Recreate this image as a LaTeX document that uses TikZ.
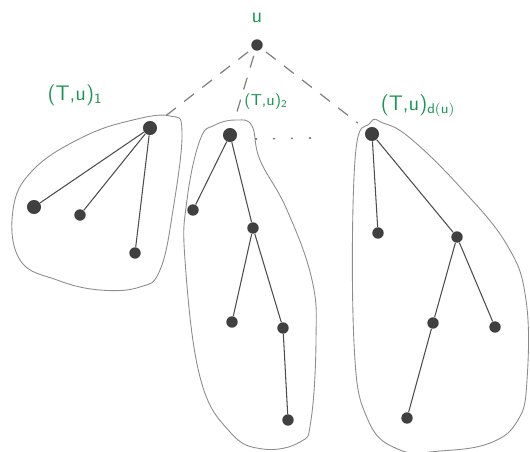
\documentclass[tikz,border=0pt]{standalone}
\definecolor{pen}{RGB}{25,150,85}
\begin{document}
\begin{tikzpicture}[x=0.02cm,y=-0.02cm,
  vtx/.style={circle,fill=black!75,inner sep=0pt,minimum size=8pt},
  svtx/.style={circle,fill=black!75,inner sep=0pt,minimum size=6.5pt},
  edge/.style={draw=black!70,line width=0.6pt},
  blob/.style={draw=black!45,line width=0.5pt},
  dashlink/.style={draw=black!50,dash pattern=on 7pt off 6pt,line width=0.7pt},
  lbl/.style={text=pen,font=\sffamily\large}]
\useasboundingbox (0,0) rectangle (530,452);
% root
\node[svtx] (u) at (257,45) {};
\node[lbl] (ul) at (257,18) {u};
% left tree
\node[vtx] (a0) at (150,128) {};
\node[vtx] (a1) at (34,207) {};
\node[svtx] (a2) at (80,215) {};
\node[svtx] (a3) at (135,253) {};
\draw[edge] (a0) -- (a1) (a0) -- (a2) (a0) -- (a3);
\draw[blob] plot[smooth cycle,tension=0.7] coordinates {(170,116) (182,132) (173,210) (160,270) (140,287) (100,290) (57,280) (20,260) (13,210) (33,170) (83,137) (133,120)};
% middle tree
\node[vtx] (b0) at (230,135) {};
\node[svtx] (b1) at (193,210) {};
\node[svtx] (b2) at (253,228) {};
\node[svtx] (b3) at (232,322) {};
\node[svtx] (b4) at (283,328) {};
\node[svtx] (b5) at (288,420) {};
\draw[edge] (b0) -- (b1) (b0) -- (b2) (b2) -- (b3) (b2) -- (b4) (b4) -- (b5);
\draw[blob] plot[smooth cycle,tension=0.7] coordinates {(237,120) (252,126) (260,160) (287,210) (312,280) (316,340) (311,420) (300,442) (263,449) (230,432) (200,377) (185,260) (187,200) (200,140) (215,125)};
% right tree
\node[vtx] (c0) at (372,134) {};
\node[svtx] (c1) at (378,233) {};
\node[svtx] (c2) at (457,237) {};
\node[svtx] (c3) at (433,323) {};
\node[svtx] (c4) at (495,327) {};
\node[svtx] (c5) at (407,418) {};
\draw[edge] (c0) -- (c1) (c0) -- (c2) (c2) -- (c3) (c2) -- (c4) (c3) -- (c5);
\draw[blob] plot[smooth cycle,tension=0.7] coordinates {(370,123) (383,123) (410,138) (460,187) (507,245) (526,300) (527,380) (518,420) (490,443) (440,451) (400,450) (368,420) (354,343) (355,160)};
% dashed links
\draw[dashlink,shorten <=3pt,shorten >=4pt] (u) -- (a0);
\draw[dashlink,shorten <=3pt,shorten >=6pt] (u) -- (b0);
\draw[dashlink,shorten <=3pt,shorten >=6pt] (u) -- (c0);
\coordinate (d1) at (255,139);
\coordinate (d2) at (312,138);
\draw[draw=black!50,line width=0.9pt,dash pattern=on 1.2pt off 9pt] (d1) -- (d2);
% labels
\node[lbl] (l1) at (75,95) {(T,u)$_{\mathsf{1}}$};
\node[lbl,font=\sffamily\small] (l2) at (266,102) {(T,u)$_{\mathsf{2}}$};
\node[lbl] (l3) at (418,106) {(T,u)$_{\mathsf{d(u)}}$};
\end{tikzpicture}
\end{document}
